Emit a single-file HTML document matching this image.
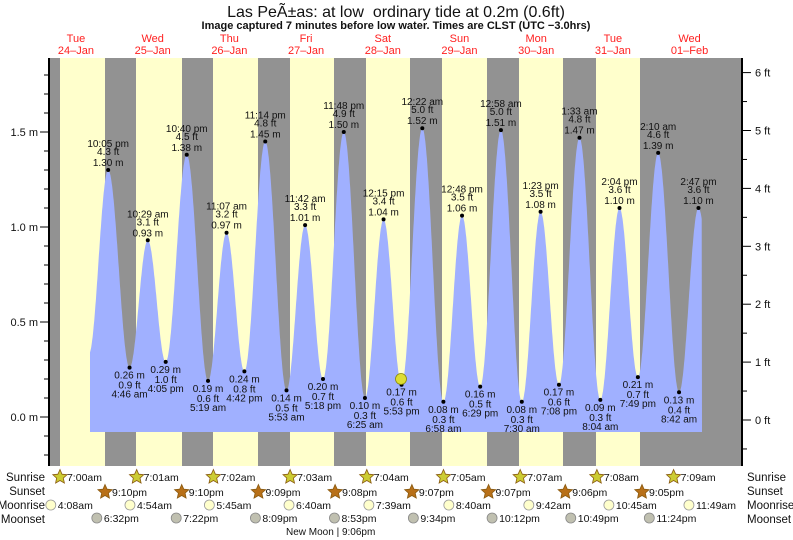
<!DOCTYPE html>
<html><head><meta charset="utf-8"><style>
body{margin:0;background:#fff;}
svg{display:block;font-family:"Liberation Sans",sans-serif;}
</style></head><body>
<svg id="s" width="793" height="540" xmlns="http://www.w3.org/2000/svg"></svg>
<script>
const S=document.getElementById('s');let h='';
const X=t=>37.6+t*3.196, Y=m=>417-m*190;
h+='<rect x="49" y="58" width="693" height="408" fill="#929292"/>';
const yb=[[60,105],[136,182],[213,258],[290,334],[366,410],[442,487],[519,563],[596,640]];
yb.forEach(b=>h+=`<rect x="${b[0]}" y="58" width="${b[1]-b[0]}" height="408" fill="#ffffcc"/>`);
const E=[[16.0,0.33,0],[22.08,1.30,'10:05 pm'],[28.77,.26,'4:46 am'],[34.48,.93,'10:29 am'],[40.08,.29,'4:05 pm'],[46.67,1.38,'10:40 pm'],[53.32,.19,'5:19 am'],[59.12,.97,'11:07 am'],[64.7,.24,'4:42 pm'],[71.23,1.45,'11:14 pm'],[77.88,.14,'5:53 am'],[83.7,1.01,'11:42 am'],[89.3,.20,'5:18 pm'],[95.8,1.50,'11:48 pm'],[102.42,.10,'6:25 am'],[108.25,1.04,'12:15 pm'],[113.88,.17,'5:53 pm'],[120.37,1.52,'12:22 am'],[126.97,.08,'6:58 am'],[132.8,1.06,'12:48 pm'],[138.48,.16,'6:29 pm'],[144.97,1.51,'12:58 am'],[151.5,.08,'7:30 am'],[157.38,1.08,'1:23 pm'],[163.13,.17,'7:08 pm'],[169.55,1.47,'1:33 am'],[176.07,.09,'8:04 am'],[182.07,1.10,'2:04 pm'],[187.82,.21,'7:49 pm'],[194.17,1.39,'2:10 am'],[200.7,.13,'8:42 am'],[206.78,1.10,'2:47 pm'],[213,0.2,0]];
let pts=[];const t0=(90-37.6)/3.196,t1=(702-37.6)/3.196;
for(let t=t0;t<=t1;t+=0.1){let i=0;while(E[i+1][0]<t)i++;const a=E[i],b=E[i+1];const f=(t-a[0])/(b[0]-a[0]);const m=a[1]+(b[1]-a[1])*(1-Math.cos(Math.PI*f))/2;pts.push(X(t).toFixed(1)+','+Y(m).toFixed(1));}
h+=`<polygon points="90,432 ${pts.join(' ')} 702,432" fill="#a0b0ff"/>`;
const tx=(x,y,s,a='middle',sz=10,c='#111',w='normal')=>`<text x="${x}" y="${y}" font-size="${sz}" text-anchor="${a}" fill="${c}" font-weight="${w}">${s}</text>`;
E.forEach((e,i)=>{if(!e[2])return;const x=X(e[0]),y=Y(e[1]);const ft=(e[1]/0.3048).toFixed(1);
h+=`<circle cx="${x}" cy="${y}" r="2" fill="#000"/>`;
if(e[1]>0.5){h+=tx(x,y-4,e[1].toFixed(2)+' m')+tx(x,y-15,ft+' ft')+tx(x,y-23,e[2]);}
else{h+=tx(x,y+11,e[1].toFixed(2)+' m')+tx(x,y+21,ft+' ft')+tx(x,y+30,e[2]);}});
h+=`<circle cx="401" cy="379" r="5.5" fill="#dddd33" stroke="#888800" stroke-width="0.8"/>`;
h+='<line x1="49" y1="58" x2="49" y2="466" stroke="#000" stroke-width="2"/><line x1="742" y1="58" x2="742" y2="466" stroke="#000" stroke-width="2"/>';
for(let k=-4;k<=19;k++){const y=Y(k/10);if(y<58||y>466)continue;const maj=k%5==0;h+=`<line x1="${maj?40:44}" y1="${y}" x2="49" y2="${y}" stroke="#000"/>`;if(maj)h+=tx(38,y+4,(k/10).toFixed(1)+' m','end',11);}
for(let k=-2;k<=12;k++){const y=420-k*0.5*57.9;if(y<58||y>466)continue;const maj=k%2==0;h+=`<line x1="742" y1="${y}" x2="${maj?751:747}" y2="${y}" stroke="#000"/>`;if(maj)h+=tx(755,y+4,(k/2)+' ft','start',11);}
h+=tx(396,17,'Las PeÃ±as: at low&#160; ordinary tide at 0.2m (0.6ft)','middle',16);
h+=tx(396,29,'Image captured 7 minutes before low water. Times are CLST (UTC −3.0hrs)','middle',11,'#111','bold');
const days=['Tue','Wed','Thu','Fri','Sat','Sun','Mon','Tue','Wed'],dt=['24–Jan','25–Jan','26–Jan','27–Jan','28–Jan','29–Jan','30–Jan','31–Jan','01–Feb'];
days.forEach((d,i)=>{const x=X(12+24*i);h+=tx(x,42,d,'middle',11,'#ff2020')+tx(x,54,dt[i],'middle',11,'#ff2020');});
['Sunrise','Sunset','Moonrise','Moonset'].forEach((n,i)=>{const y=[481,495,509,523][i];h+=tx(45,y,n,'end',11.5)+tx(747,y,n,'start',11.5);});
const star=(x,y,f)=>{let p=[];for(let k=0;k<10;k++){const r=k%2?3.5:7.5,a=-Math.PI/2+k*Math.PI/5;p.push((x+r*Math.cos(a)).toFixed(1)+','+(y+r*Math.sin(a)).toFixed(1));}return `<polygon points="${p.join(' ')}" fill="${f}" stroke="#8a5a10" stroke-width="0.8"/>`;};
const sr=['7:00am','7:01am','7:02am','7:03am','7:04am','7:05am','7:07am','7:08am','7:09am'];
sr.forEach((s,i)=>{const x=X(7+24*i);h+=star(x,477,'#cccc33')+tx(x+7,481,s,'start',10.5);});
const ss=['9:10pm','9:10pm','9:09pm','9:08pm','9:07pm','9:07pm','9:06pm','9:05pm'];
ss.forEach((s,i)=>{const x=X(21.1+24*i);h+=star(x,492,'#b87018')+tx(x+7,496,s,'start',10.5);});
const mr=[[4.13,'4:08am'],[28.9,'4:54am'],[53.75,'5:45am'],[78.67,'6:40am'],[103.65,'7:39am'],[128.67,'8:40am'],[153.7,'9:42am'],[178.75,'10:45am'],[203.8,'11:49am']];
mr.forEach(m=>{const x=X(m[0]);h+=`<circle cx="${x}" cy="505" r="5" fill="#ffffcc" stroke="#999" stroke-width="0.8"/>`+tx(x+7,509,m[1],'start',10.5);});
const ms=[[18.53,'6:32pm'],[43.37,'7:22pm'],[68.15,'8:09pm'],[92.88,'8:53pm'],[117.57,'9:34pm'],[142.2,'10:12pm'],[166.82,'10:49pm'],[191.4,'11:24pm']];
ms.forEach(m=>{const x=X(m[0]);h+=`<circle cx="${x}" cy="518" r="5" fill="#c0c0b0" stroke="#888" stroke-width="0.8"/>`+tx(x+7,522,m[1],'start',10.5);});
h+=tx(286,535,'New Moon | 9:06pm','start',10);
S.innerHTML=h;
</script>
</body></html>
